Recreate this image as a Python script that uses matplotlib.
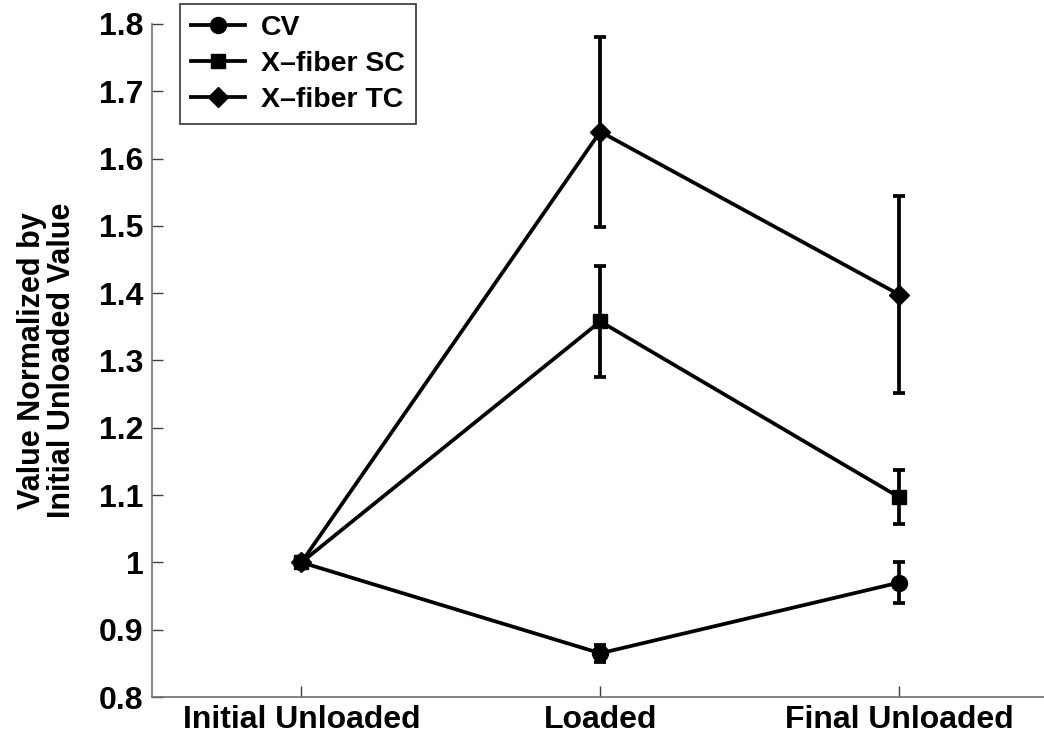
import numpy as np
import matplotlib
matplotlib.use("Agg")
import matplotlib.pyplot as plt

plt.rcParams['font.family'] = ['Liberation Sans', 'DejaVu Sans']
plt.rcParams['font.weight'] = 'bold'

# dane
stages = ["Initial Unloaded", "Loaded", "Final Unloaded"]
series_names = ["CV", "X\u2013fiber SC", "X\u2013fiber TC"]
markers = ["o", "s", "D"]

cv_mean = [1.0, 0.865, 0.970]
cv_err = [0.0, 0.013, 0.031]
sc_mean = [1.0, 1.358, 1.097]
sc_err = [0.0, 0.082, 0.040]
tc_mean = [1.0, 1.640, 1.398]
tc_err = [0.0, 0.141, 0.146]

means = [cv_mean, sc_mean, tc_mean]
errs = [cv_err, sc_err, tc_err]
msizes = [11.5, 9.5, 10.5]

fig = plt.figure(figsize=(10.44, 7.4), dpi=100)
ax = fig.add_axes([0.1456, 0.0581, 0.8587, 0.9095])

x = np.arange(1, len(stages) + 1)
for m, e, mk, name, ms in zip(means, errs, markers, series_names, msizes):
    ax.errorbar(x, m, yerr=e, color="black", marker=mk, markersize=ms,
                linewidth=2.7, elinewidth=2.7, capsize=4.5, capthick=2.7,
                label=name)

ax.set_xlim(0.5, 3.5)
ax.set_ylim(0.8, 1.8)
ax.set_xticks(x)
ax.set_xticklabels(stages)
ax.set_yticks(np.arange(0.8, 1.81, 0.1))
ax.set_yticklabels(["0.8", "0.9", "1", "1.1", "1.2", "1.3", "1.4", "1.5", "1.6", "1.7", "1.8"])

for s in ["top", "right"]:
    ax.spines[s].set_visible(False)
for s in ["left", "bottom"]:
    ax.spines[s].set_color("#707070")
    ax.spines[s].set_linewidth(1.2)

ax.tick_params(direction="in", length=8, width=1, color="#404040",
               labelsize=23, pad=6)
for lab in ax.get_xticklabels() + ax.get_yticklabels():
    lab.set_fontweight("bold")

ax.set_ylabel("Value Normalized by\nInitial Unloaded Value", fontsize=22,
              fontweight="bold", labelpad=16, linespacing=1.0)

leg = ax.legend(handles=[plt.Line2D([], [], color="black", marker=mk, markersize=ms,
                                     linewidth=2.7) for mk, ms in zip(markers, msizes)],
                labels=series_names, loc="upper left",
                bbox_to_anchor=(180 / 1044, 1 - 4 / 740),
                bbox_transform=fig.transFigure, fontsize=20.5,
                frameon=True, fancybox=False, borderaxespad=0,
                handlelength=1.9, handletextpad=0.55, labelspacing=0.34,
                borderpad=0.4)
leg.get_frame().set_edgecolor("black")
leg.get_frame().set_linewidth(1.2)
for t in leg.get_texts():
    t.set_fontweight("bold")

fig.savefig("out.png", dpi=100)
plt.close(fig)
